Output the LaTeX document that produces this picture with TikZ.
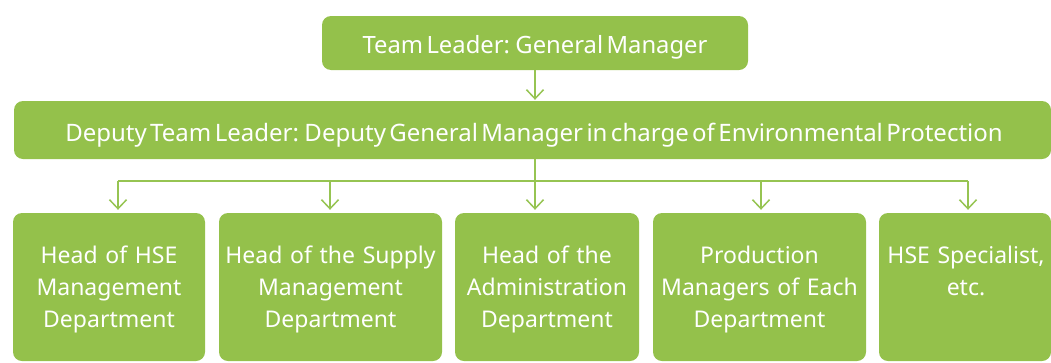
\documentclass[tikz,border=0pt]{standalone}
\usepackage{fontspec}
\setmainfont{Noto Sans}[WordSpace=0.55]
\usetikzlibrary{arrows.meta}
\definecolor{boxgreen}{RGB}{148,193,75}
\definecolor{linegreen}{RGB}{150,196,82}
\begin{document}
\begin{tikzpicture}[x=1pt,y=-1pt,
  box/.style={fill=boxgreen, draw=none, rounded corners=9pt, inner sep=0pt},
  txt/.style={text=white, align=center, inner sep=0pt, anchor=base, font=\fontsize{23}{32}\selectfont},
  conn/.style={draw=linegreen, line width=1.5pt},
  arr/.style={conn, -{Straight Barb[length=9pt,width=17pt,line width=1.5pt]}, shorten >=3pt}]
\useasboundingbox (0,0) rectangle (1051,362);
\node[box, minimum width=426pt, minimum height=54pt] (top) at (535,43) {};
\node[box, minimum width=1037pt, minimum height=58pt] (dep) at (532.5,130) {};
\node[box, minimum width=192pt, minimum height=148pt] (b1) at (109,287) {};
\node[box, minimum width=223pt, minimum height=148pt] (b2) at (330.5,287) {};
\node[box, minimum width=184pt, minimum height=148pt] (b3) at (547,287) {};
\node[box, minimum width=213pt, minimum height=148pt] (b4) at (759.5,287) {};
\node[box, minimum width=172pt, minimum height=148pt] (b5) at (965,287) {};
\node[txt, font=\fontsize{23.8}{32}\selectfont] (ttop) at (535,53.3) {Team Leader: General Manager};
\node[txt, font=\fontsize{24}{30}\selectfont] (tdep) at (534,141) {Deputy Team Leader: Deputy General Manager in charge of Environmental Protection};
\node[txt, text width=192pt] (t1) at (109,263) {Head of HSE\\Management\\Department};
\node[txt, text width=223pt] (t2) at (330.5,263) {Head of the Supply\\Management\\Department};
\node[txt, text width=184pt] (t3) at (547,263) {Head of the\\Administration\\Department};
\node[txt, text width=213pt] (t4) at (759.5,263) {Production\\Managers of Each\\Department};
\node[txt, text width=172pt] (t5) at (966,263) {HSE Specialist,\\etc.};
\coordinate (a1) at (118,181);
\coordinate (a2) at (330,181);
\coordinate (a3) at (535,181);
\coordinate (a4) at (761,181);
\coordinate (a5) at (968,181);
\draw[arr, shorten >=1pt] (top.south) -- (top.south |- dep.north);
\draw[conn] (top.south |- dep.south) -- (a3);
\draw[conn] (a1) -- (a5);
\draw[arr] (a1) -- (a1 |- b1.north);
\draw[arr] (a2) -- (a2 |- b2.north);
\draw[arr] (a3) -- (a3 |- b3.north);
\draw[arr] (a4) -- (a4 |- b4.north);
\draw[arr] (a5) -- (a5 |- b5.north);
\end{tikzpicture}
\end{document}
